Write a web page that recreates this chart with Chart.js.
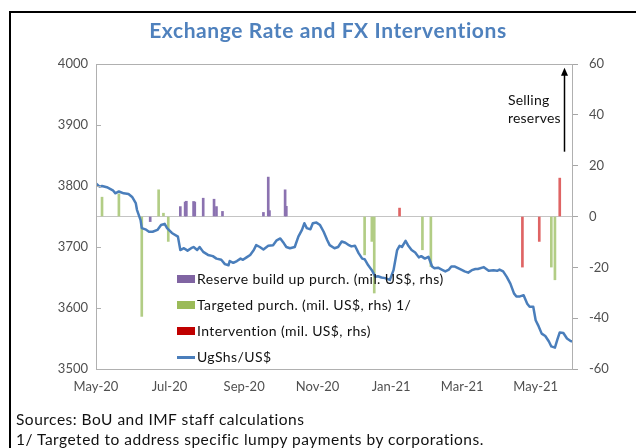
<!DOCTYPE html>
<html><head><meta charset="utf-8">
<script src="https://cdn.jsdelivr.net/npm/chart.js@4.4.1/dist/chart.umd.min.js"></script>
<style>
html,body{margin:0;padding:0;background:#fff;width:636px;height:448px;overflow:hidden;font-family:Lato,sans-serif;}
#wrap{position:relative;width:636px;height:448px;overflow:hidden;}
#frame{position:absolute;left:9px;top:11px;width:700px;height:500px;border-top:2px solid #000;border-left:2px solid #000;}
#c{position:absolute;left:0;top:0;}
#title{position:absolute;left:0;width:656px;top:17px;text-align:center;font:bold 21px Lato,sans-serif;color:#4f81bd;letter-spacing:0.6px;}
#legend{position:absolute;left:177px;top:270px;font:14px Lato,sans-serif;color:#111;letter-spacing:0.4px;}
.row{position:absolute;left:0;height:18px;white-space:nowrap;}
.sw{position:absolute;left:0;top:5px;width:18px;height:8px;}
.ln{position:absolute;left:0;top:8px;width:18px;height:2.5px;}
.tx{position:absolute;left:20px;top:0;line-height:18px;}
#note{position:absolute;left:16px;top:409px;font:15.5px Lato,sans-serif;color:#111;line-height:20px;white-space:nowrap;letter-spacing:0.5px;}
#sell{position:absolute;left:508px;top:91px;font:14px Lato,sans-serif;color:#111;line-height:18px;letter-spacing:0.2px;}
</style></head>
<body><div id="wrap">
<div id="frame"></div>
<canvas id="c" width="636" height="448"></canvas>
<div id="title">Exchange Rate and FX Interventions</div>
<div id="legend"></div>
<div id="sell">Selling<br>reserves</div>
<div id="note">Sources: BoU and IMF staff calculations<br>1/ Targeted to address specific lumpy payments by corporations.</div>
</div>
<script>
// ---------- DATA ----------
const lineDates = ['2020-05-01','2020-05-04','2020-05-06','2020-05-10','2020-05-15','2020-05-17','2020-05-20','2020-05-24','2020-05-28','2020-05-31',
'2020-06-03','2020-06-04','2020-06-07','2020-06-08','2020-06-11','2020-06-14','2020-06-17','2020-06-21','2020-06-24','2020-06-27','2020-06-29',
'2020-07-03','2020-07-08','2020-07-10','2020-07-13','2020-07-16','2020-07-19','2020-07-21','2020-07-24','2020-07-26','2020-07-29',
'2020-08-02','2020-08-06','2020-08-09','2020-08-13','2020-08-16','2020-08-19','2020-08-20','2020-08-23','2020-08-26','2020-08-29','2020-08-31',
'2020-09-03','2020-09-06','2020-09-09','2020-09-11','2020-09-14','2020-09-17','2020-09-21','2020-09-25','2020-09-28',
'2020-10-01','2020-10-04','2020-10-06','2020-10-09','2020-10-13','2020-10-16','2020-10-19','2020-10-21','2020-10-23','2020-10-26','2020-10-28','2020-10-31',
'2020-11-03','2020-11-06','2020-11-09','2020-11-11','2020-11-15','2020-11-18','2020-11-21','2020-11-24','2020-11-27','2020-11-29',
'2020-12-02','2020-12-05','2020-12-08','2020-12-10','2020-12-13','2020-12-16','2020-12-19','2020-12-21','2020-12-24','2020-12-27','2020-12-31',
'2021-01-03','2021-01-06','2021-01-08','2021-01-10','2021-01-13','2021-01-15','2021-01-18','2021-01-21','2021-01-24','2021-01-26','2021-01-29',
'2021-02-01','2021-02-04','2021-02-06','2021-02-09','2021-02-12','2021-02-15','2021-02-18','2021-02-20','2021-02-23','2021-02-26',
'2021-03-01','2021-03-03','2021-03-06','2021-03-09','2021-03-12','2021-03-14','2021-03-19','2021-03-23','2021-03-27','2021-03-30',
'2021-04-01','2021-04-04','2021-04-07','2021-04-10','2021-04-13','2021-04-15','2021-04-18','2021-04-21','2021-04-24','2021-04-26','2021-04-29',
'2021-05-01','2021-05-03','2021-05-06','2021-05-09','2021-05-12','2021-05-14','2021-05-17','2021-05-19','2021-05-21','2021-05-24','2021-05-27','2021-05-30','2021-06-01'];
const lineValues = [3804,3799,3800,3798,3793,3788,3791,3788,3787,3782,
3772,3761,3744,3731,3729,3725,3725,3728,3736,3738,3731,
3723,3717,3695,3698,3694,3698,3700,3695,3700,3692,
3687,3685,3681,3679,3672,3670,3677,3674,3677,3681,3679,
3683,3687,3695,3703,3700,3696,3702,3703,3711,
3714,3706,3700,3698,3700,3717,3728,3739,3731,3729,3739,3740,
3736,3725,3711,3703,3698,3700,3709,3707,3703,3701,
3702,3690,3681,3680,3670,3662,3651,3652,3650,3649,3646,
3662,3695,3702,3700,3710,3703,3695,3691,3683,3685,3681,
3684,3668,3665,3666,3663,3660,3663,3668,3668,3665,
3662,3660,3658,3662,3664,3664,3667,3661,3662,3661,
3663,3660,3651,3640,3624,3619,3619,3621,3607,3602,3602,
3580,3572,3558,3554,3545,3537,3535,3548,3560,3559,3550,3546,3545];

const reserveDates = ['2020-06-15','2020-07-10','2020-07-14','2020-07-15','2020-07-21','2020-07-22','2020-07-29','2020-08-07','2020-08-09','2020-08-14','2020-09-17','2020-09-21','2020-09-22','2020-10-05','2020-10-06'];
const reserveValues = [-2,3.9,5.7,6,5.9,5.7,7.2,6.8,3.9,2,1.6,15.5,2.3,10.5,4];

const targetedDates = ['2020-05-06','2020-05-20','2020-06-08','2020-06-22','2020-06-26','2020-06-30','2020-12-10','2020-12-16','2020-12-18','2021-01-27','2021-02-03','2021-05-14','2021-05-17'];
const targetedValues = [7.6,8.9,-39.3,10.5,1.3,-9.8,-15.1,-9.8,-30.1,-13.1,-19.7,-19.9,-24.9];

const interventionDates = ['2021-01-08','2021-04-20','2021-05-04','2021-05-21'];
const interventionValues = [3.3,-19.9,-9.8,15.1];

const tickDates = ['2020-05-01','2020-07-01','2020-09-01','2020-11-01','2021-01-01','2021-03-01','2021-05-01'];
const tickLabels = ['May-20','Jul-20','Sep-20','Nov-20','Jan-21','Mar-21','May-21'];
const startDate = '2020-05-01', endDate = '2021-06-01';

const seriesNames = ['Reserve build up purch. (mil. US$, rhs)','Targeted purch. (mil. US$, rhs) 1/','Intervention (mil. US$, rhs)','UgShs/US$'];
const legendColors = ['#8064A2','#9BBB59','#C00000','#4A7EBB'];
const barColors = ['#8b72b0','#b2cd85','#df6464'];

// ---------- helpers ----------
const dayOf = s => { const [y,m,d] = s.split('-').map(Number); return Math.round((Date.UTC(y,m-1,d) - Date.UTC(2020,4,1))/86400000); };
const pts = (ds, vs) => ds.map((d,i)=>({x:dayOf(d), y:vs[i]}));
const tickDays = tickDates.map(dayOf);

// legend (HTML)
const leg = document.getElementById('legend');
seriesNames.forEach((n,i)=>{
  const r = document.createElement('div'); r.className='row'; r.style.top=(i*26)+'px';
  const s = document.createElement('div'); s.className = i<3?'sw':'ln'; s.style.background=legendColors[i];
  const t = document.createElement('div'); t.className='tx'; t.textContent=n;
  r.appendChild(s); r.appendChild(t); leg.appendChild(r);
});

const arrowSpec = {day: 388.5, from: 25.5, to: 58.5};

const boxPlugin = {
  id:'box',
  afterDraw(chart){
    const {ctx, chartArea:a, scales} = chart;
    ctx.save();
    ctx.strokeStyle='#b0b0b0'; ctx.lineWidth=1;
    ctx.strokeRect(Math.round(a.left)+0.5, Math.round(a.top)+0.5, Math.round(a.right-a.left)-1, Math.round(a.bottom-a.top));
    // inward ticks on left axis
    scales.y.ticks.forEach(t=>{
      const yy = Math.round(scales.y.getPixelForValue(t.value))+0.5;
      ctx.beginPath(); ctx.moveTo(a.left, yy); ctx.lineTo(a.left+5, yy); ctx.stroke();
    });
    // arrow
    const ax = Math.round(scales.x.getPixelForValue(arrowSpec.day))+0.5;
    const y0 = scales.y2.getPixelForValue(arrowSpec.from), y1 = scales.y2.getPixelForValue(arrowSpec.to);
    ctx.strokeStyle='#000'; ctx.fillStyle='#000'; ctx.lineWidth=1.5;
    ctx.beginPath(); ctx.moveTo(ax,y0); ctx.lineTo(ax,y1+6); ctx.stroke();
    ctx.beginPath(); ctx.moveTo(ax,y1); ctx.lineTo(ax-3.5,y1+8); ctx.lineTo(ax+3.5,y1+8); ctx.closePath(); ctx.fill();
    ctx.restore();
  }
};

Chart.defaults.font.family = 'Lato, sans-serif';
const barDs = (label, data, color) => ({type:'bar', label, data, backgroundColor:color, yAxisID:'y2', barThickness:2, grouped:false, order:2});

new Chart(document.getElementById('c'), {
  type:'bar',
  data:{datasets:[
    barDs(seriesNames[0], pts(reserveDates, reserveValues), barColors[0]),
    barDs(seriesNames[1], pts(targetedDates, targetedValues), barColors[1]),
    barDs(seriesNames[2], pts(interventionDates, interventionValues), barColors[2]),
    {type:'line', label:seriesNames[3], data:pts(lineDates, lineValues), borderColor:legendColors[3], borderWidth:2.5, pointRadius:0, tension:0, yAxisID:'y', order:0, borderJoinStyle:'round'}
  ]},
  options:{
    responsive:false, animation:false, events:[],
    layout:{padding:{top:64,left:0,right:0,bottom:0}},
    plugins:{legend:{display:false}, tooltip:{enabled:false}, title:{display:false}},
    scales:{
      x:{type:'linear', min:dayOf(startDate), max:dayOf(endDate), offset:false,
        grid:{display:false, drawTicks:false}, border:{display:false},
        afterBuildTicks: s => { s.ticks = tickDays.map(v=>({value:v})); },
        afterFit: s => { s.height = 79; },
        ticks:{autoSkip:false, maxRotation:0, padding:10, color:'#505050', font:{size:13},
          callback: v => tickLabels[tickDays.indexOf(v)] }
      },
      y:{position:'left', min:3500, max:4000, grid:{display:false, drawTicks:false}, border:{display:false},
        afterFit: s => { s.width = 96; },
        ticks:{stepSize:100, padding:8, color:'#505050', font:{size:13}, callback: v => String(v)}
      },
      y2:{position:'right', min:-60, max:60, border:{display:false},
        grid:{drawOnChartArea:true, color: c => (c.tick && c.tick.value===0) ? '#c4c4c4' : 'rgba(0,0,0,0)', tickColor:'#a6a6a6', tickLength:5, drawTicks:true},
        afterFit: s => { s.width = 63; },
        ticks:{stepSize:20, padding:11, color:'#505050', font:{size:13}, callback: v => String(v)}
      }
    }
  },
  plugins:[boxPlugin]
});
</script>
</body></html>
